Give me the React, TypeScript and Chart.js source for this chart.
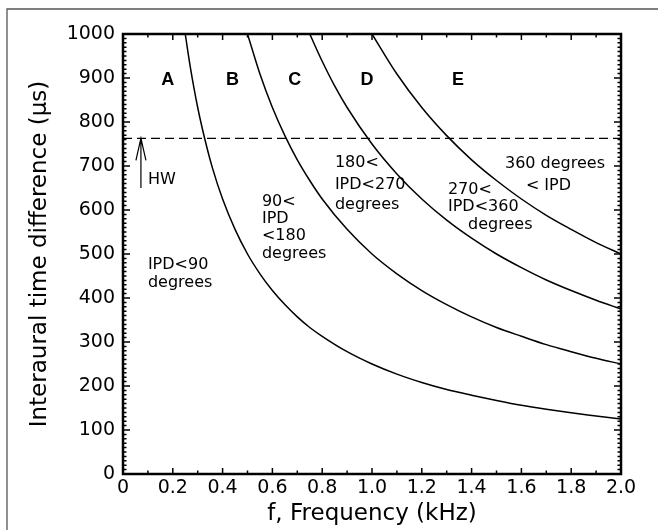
import React, { useEffect, useRef } from "react";
import { Chart, registerables } from "chart.js";

Chart.register(...registerables);

// ---- data ----
const freqIpd90 = [0.25, 0.27, 0.3, 0.33, 0.36, 0.4, 0.45, 0.5, 0.55, 0.6, 0.65, 0.7, 0.75, 0.8, 0.9, 1.0, 1.1, 1.2, 1.3, 1.4, 1.5, 1.6, 1.7, 1.8, 1.9, 2.0];
const itdIpd90 = [1000, 926, 833, 758, 694, 625, 556, 500, 455, 417, 385, 357, 333, 313, 278, 250, 227, 208, 192, 179, 167, 156, 147, 139, 132, 125];

const freqIpd180 = [0.5, 0.55, 0.6, 0.65, 0.7, 0.75, 0.8, 0.9, 1.0, 1.1, 1.2, 1.3, 1.4, 1.5, 1.6, 1.7, 1.8, 1.9, 2.0];
const itdIpd180 = [1000, 909, 833, 769, 714, 667, 625, 556, 500, 455, 417, 385, 357, 333, 313, 294, 278, 263, 250];

const freqIpd270 = [0.75, 0.8, 0.85, 0.9, 1.0, 1.1, 1.2, 1.3, 1.4, 1.5, 1.6, 1.7, 1.8, 1.9, 2.0];
const itdIpd270 = [1000, 938, 882, 833, 750, 682, 625, 577, 536, 500, 469, 441, 417, 395, 375];

const freqIpd360 = [1.0, 1.1, 1.2, 1.3, 1.4, 1.5, 1.6, 1.7, 1.8, 1.9, 2.0];
const itdIpd360 = [1000, 909, 833, 769, 714, 667, 625, 588, 556, 526, 500];

const headWidthFreq = [0, 2];
const headWidthItd = [763, 763];

const regionLetters = ["A", "B", "C", "D", "E"];
const regionFreq = [0.18, 0.44, 0.69, 0.98, 1.345];
const regionItd = 895;

const arrowFreq = 0.072;
const arrowItdFrom = 650;
const arrowItdTo = 763;

const noteTexts = ["HW", "IPD<90", "degrees", "90<", "IPD", "<180", "degrees", "180<", "IPD<270", "degrees", "270<", "IPD<360", "degrees", "360 degrees", "< IPD"];
const noteFreq = [0.1, 0.1, 0.1, 0.558, 0.558, 0.558, 0.558, 0.851, 0.851, 0.851, 1.305, 1.305, 1.386, 1.534, 1.618];
const noteItd = [668, 475, 434, 618, 580, 541, 500, 707, 657, 611, 645, 607, 566, 705, 655];

const xTitle = "f, Frequency (kHz)";
const yTitle = "Interaural time difference (\u00b5s)";

const FONT = "'DejaVu Sans', 'Noto Sans', sans-serif";

const toPoints = (xs: number[], ys: number[]) => xs.map((x, i) => ({ x, y: ys[i] }));

const decorPlugin = {
  id: "decor",
  beforeDraw(chart: any) {
    const { ctx, width, height } = chart;
    ctx.save();
    ctx.fillStyle = "#ffffff";
    ctx.fillRect(0, 0, width, height);
    ctx.strokeStyle = "#555555";
    ctx.lineWidth = 1.3;
    ctx.beginPath();
    ctx.moveTo(7, height);
    ctx.lineTo(7, 9);
    ctx.lineTo(width, 9);
    ctx.stroke();
    ctx.restore();
  },
  afterDatasetsDraw(chart: any) {
    const { ctx, chartArea: a, scales } = chart;
    const xs = scales.x;
    const ys = scales.y;
    ctx.save();
    ctx.strokeStyle = "#000";
    ctx.lineWidth = 1.5;
    ctx.beginPath();
    for (let i = 0; i <= 20; i++) {
      const px = xs.getPixelForValue(i * 0.1);
      const len = i % 2 === 0 ? 6 : 3.5;
      ctx.moveTo(px, a.bottom);
      ctx.lineTo(px, a.bottom - len);
      ctx.moveTo(px, a.top);
      ctx.lineTo(px, a.top + len);
    }
    for (let i = 0; i <= 100; i++) {
      const py = ys.getPixelForValue(i * 10);
      const len = i % 10 === 0 ? 7 : 3.5;
      ctx.moveTo(a.left, py);
      ctx.lineTo(a.left + len, py);
      ctx.moveTo(a.right, py);
      ctx.lineTo(a.right - len, py);
    }
    ctx.stroke();

    ctx.lineWidth = 2.5;
    ctx.strokeRect(a.left, a.top, a.right - a.left, a.bottom - a.top);

    const ax = xs.getPixelForValue(arrowFreq);
    const ay0 = ys.getPixelForValue(arrowItdFrom);
    const ay1 = ys.getPixelForValue(arrowItdTo);
    ctx.lineWidth = 1.2;
    ctx.beginPath();
    ctx.moveTo(ax, ay0);
    ctx.lineTo(ax, ay1);
    ctx.moveTo(ax - 5, ay1 + 22);
    ctx.lineTo(ax, ay1);
    ctx.lineTo(ax + 5, ay1 + 22);
    ctx.stroke();

    ctx.fillStyle = "#000";
    ctx.textAlign = "center";
    ctx.textBaseline = "middle";
    ctx.font = "bold 18px 'Liberation Sans', Arial, sans-serif";
    regionLetters.forEach((t, i) => {
      ctx.fillText(t, xs.getPixelForValue(regionFreq[i]), ys.getPixelForValue(regionItd));
    });

    ctx.textAlign = "left";
    ctx.font = `16px ${FONT}`;
    noteTexts.forEach((t, i) => {
      ctx.fillText(t, xs.getPixelForValue(noteFreq[i]), ys.getPixelForValue(noteItd[i]));
    });
    ctx.restore();
  },
};

export default function App() {
  const ref = useRef<HTMLCanvasElement | null>(null);
  useEffect(() => {
    if (!ref.current) return;
    const lineStyle = {
      showLine: true,
      borderColor: "#000",
      borderWidth: 1.5,
      pointRadius: 0,
      cubicInterpolationMode: "monotone" as const,
      fill: false,
    };
    const chart = new Chart(ref.current, {
      type: "scatter",
      data: {
        datasets: [
          { ...lineStyle, data: toPoints(freqIpd90, itdIpd90) },
          { ...lineStyle, data: toPoints(freqIpd180, itdIpd180) },
          { ...lineStyle, data: toPoints(freqIpd270, itdIpd270) },
          { ...lineStyle, data: toPoints(freqIpd360, itdIpd360) },
          { ...lineStyle, borderWidth: 1.2, borderDash: [9, 5], data: toPoints(headWidthFreq, headWidthItd) },
        ],
      },
      options: {
        animation: false,
        responsive: false,
        devicePixelRatio: 1,
        layout: { padding: { left: 0, top: 34, right: 37, bottom: 0 } },
        plugins: { legend: { display: false }, tooltip: { enabled: false } },
        scales: {
          x: {
            type: "linear",
            min: 0,
            max: 2,
            grid: { display: false, drawTicks: false },
            border: { display: false },
            ticks: {
              stepSize: 0.2,
              padding: 3,
              color: "#000",
              font: { family: FONT, size: 19 },
              maxRotation: 0,
              callback: (v: any) => (Math.abs(v) < 1e-9 ? "0" : Number(v).toFixed(1)),
            },
            title: {
              display: true,
              text: xTitle,
              color: "#000",
              font: { family: FONT, size: 23 },
              padding: { top: 0, bottom: 2 },
            },
            afterFit: (s: any) => {
              s.height = 56;
            },
          },
          y: {
            type: "linear",
            min: 0,
            max: 1000,
            grid: { display: false, drawTicks: false },
            border: { display: false },
            ticks: {
              stepSize: 100,
              padding: 8,
              color: "#000",
              font: { family: FONT, size: 19 },
              callback: (v: any) => String(Math.round(Number(v))),
            },
            title: {
              display: true,
              text: yTitle,
              color: "#000",
              font: { family: FONT, size: 23 },
              padding: { top: 26, bottom: 0 },
            },
            afterFit: (s: any) => {
              s.width = 123;
            },
          },
        },
      },
      plugins: [decorPlugin],
    });
    return () => chart.destroy();
  }, []);
  return (
    <div style={{ position: "fixed", left: 0, top: 0, width: 658, height: 530, background: "#fff" }}>
      <canvas ref={ref} width={658} height={530} style={{ display: "block", width: 658, height: 530 }} />
    </div>
  );
}
